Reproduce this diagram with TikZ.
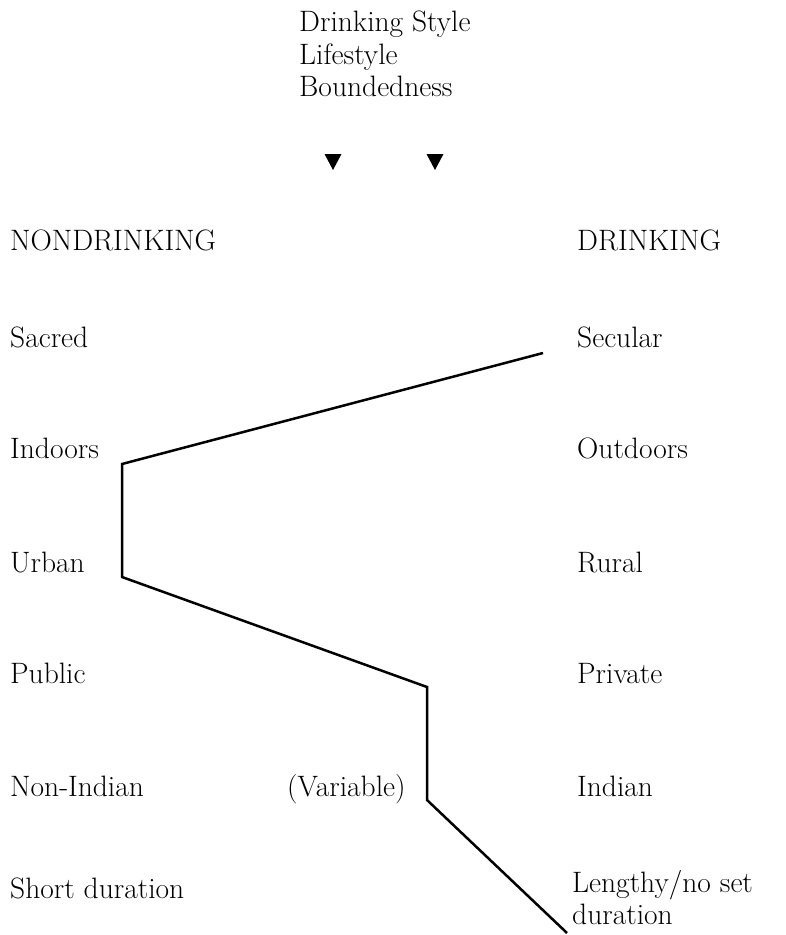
\documentclass[tikz,border=0pt]{standalone}
\usepackage{tikz}

\begin{document}
\begin{tikzpicture}[x=1pt, y=-1pt, font=\fontsize{29.5}{32.5}\selectfont,
    lbl/.style={anchor=base west, inner sep=0pt}]
    \useasboundingbox (0,0) rectangle (785,935);
    % heading
    \node [anchor=north west, inner sep=0pt, align=left] (head) at (299, 11) {Drinking Style\\Lifestyle\\Boundedness};
    \foreach \x in {333, 435}
        \fill (\x-8.5, 154) -- (\x+8.5, 154) -- (\x, 170) -- cycle;
    % column titles
    \node [lbl] (nd) at (10, 250) {NONDRINKING};
    \node [lbl] (dr) at (577, 250) {DRINKING};
    % nondrinking side
    \node [lbl] (sacred) at (10, 347) {Sacred};
    \node [lbl] (indoors) at (10, 458) {Indoors};
    \node [lbl] (urban) at (10, 572) {Urban};
    \node [lbl] (public) at (10, 683) {Public};
    \node [lbl] (nonind) at (10, 796) {Non-Indian};
    \node [lbl] (short) at (10, 898) {Short duration};
    % drinking side
    \node [lbl] (secular) at (577, 347) {Secular};
    \node [lbl] (outdoors) at (577, 458) {Outdoors};
    \node [lbl] (rural) at (577, 572) {Rural};
    \node [lbl] (private) at (577, 683) {Private};
    \node [lbl] (indian) at (577, 796) {Indian};
    \node [anchor=north west, inner sep=0pt, align=left] (lengthy) at (572, 870) {Lengthy/no set\\duration};
    \node [lbl] (var) at (287, 796) {(Variable)};
    % profile
    \coordinate (p0) at (543, 353);
    \coordinate (p1) at (122, 464);
    \coordinate (p2) at (122, 577);
    \coordinate (p3) at (427, 687);
    \coordinate (p4) at (427, 800);
    \coordinate (p5) at (567, 933);
    \draw [line width=2.5pt] (p0) -- (p1) -- (p2) -- (p3) -- (p4) -- (p5);
\end{tikzpicture}
\end{document}
